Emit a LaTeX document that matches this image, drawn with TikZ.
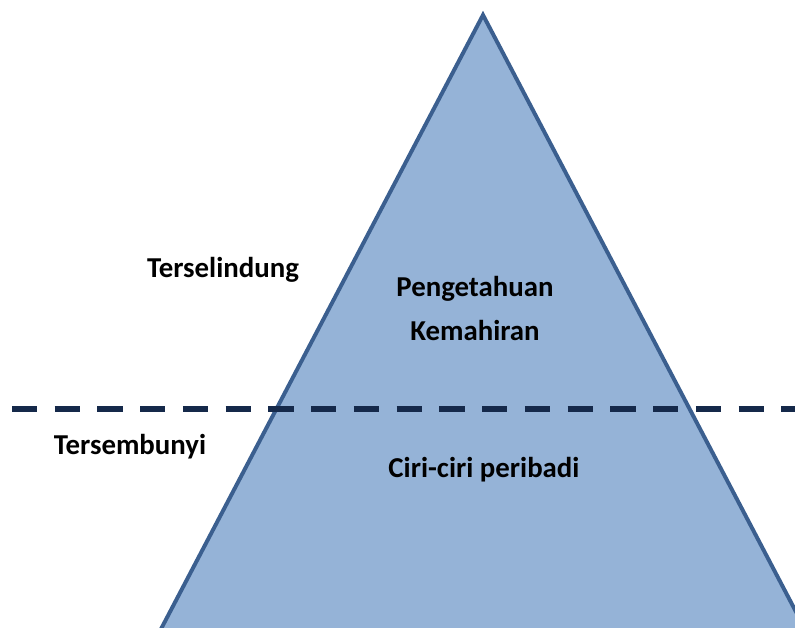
\documentclass[tikz,border=0pt]{standalone}
\usepackage{fontspec}
\setmainfont{Carlito}
\definecolor{iceedge}{HTML}{3B5F8F}
\definecolor{icefill}{HTML}{95B3D7}
\definecolor{sealine}{HTML}{15294A}
\tikzset{
    ice/.style={draw=iceedge, fill=icefill, line width=2.8pt, line join=miter},
    water/.style={draw=sealine, line width=4.6pt, dash pattern=on 17.8pt off 12.6pt},
    lbl/.style={font=\fontsize{20.5}{24}\selectfont\bfseries, inner sep=0pt},
  }

\begin{document}
\begin{tikzpicture}[x=0.025cm, y=-0.025cm]
        \useasboundingbox (0,0) rectangle (795,628);
        \begin{scope}
            \clip (0,0) rectangle (795,628);
            % the iceberg
            \draw[ice] (483,15) -- (150,650) -- (816,650) -- cycle;
            % water line
            \draw[water] (12,409) -- (800,409);
        \end{scope}
        \node[lbl] (above) at (223,270) {Terselindung};
        \node[lbl] (below) at (130,447) {Tersembunyi};
        \node[lbl] (know) at (475,289) {Pengetahuan};
        \node[lbl] (skill) at (475,330) {Kemahiran};
        \node[lbl] (trait) at (484,470) {Ciri-ciri peribadi};
    \end{tikzpicture}
\end{document}
